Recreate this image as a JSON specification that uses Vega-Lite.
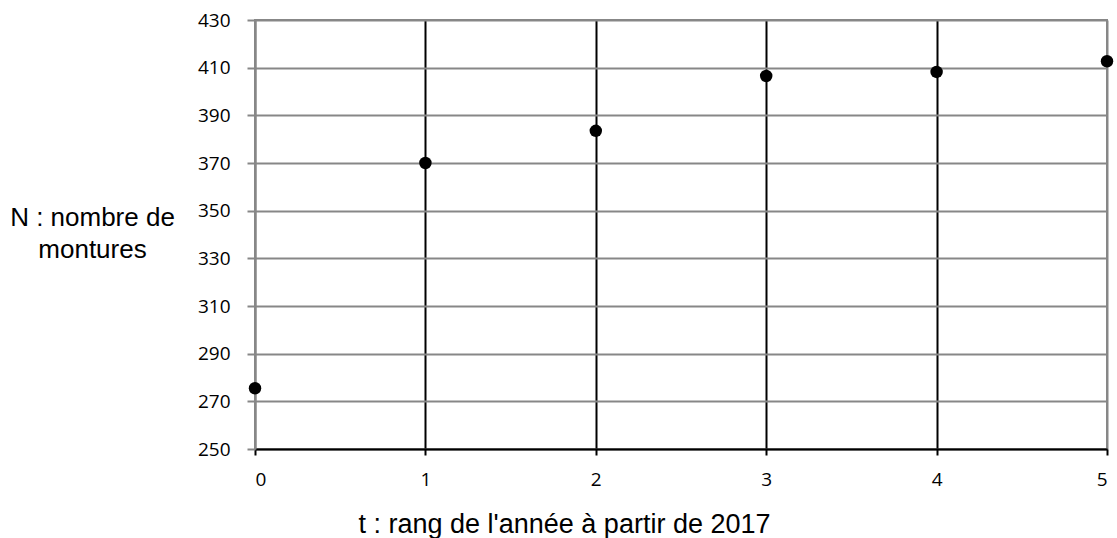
{
  "$schema": "https://vega.github.io/schema/vega-lite/v6.json",
  "width": 852,
  "height": 429,
  "autosize": "none",
  "padding": {"left": 255, "top": 20, "right": 10, "bottom": 89},
  "background": "white",
  "config": {
    "view": {"stroke": "#878787", "strokeWidth": 2}
  },
  "data": {
    "values": [
      {"t": 0, "N": 275.5},
      {"t": 1, "N": 370},
      {"t": 2, "N": 383.5},
      {"t": 3, "N": 406.5},
      {"t": 4, "N": 408.2},
      {"t": 5, "N": 412.7}
    ]
  },
  "mark": {"type": "point", "filled": true, "color": "black", "opacity": 1, "size": 155},
  "encoding": {
    "x": {
      "field": "t",
      "type": "quantitative",
      "scale": {"domain": [0, 5], "nice": false, "zero": false},
      "axis": {
        "values": [0, 1, 2, 3, 4, 5],
        "format": "d",
        "grid": true,
        "gridColor": {"condition": {"test": "datum.value == 0 || datum.value == 5", "value": "#878787"}, "value": "black"},
        "gridWidth": 2,
        "domainColor": "black",
        "domainWidth": 2,
        "tickColor": "black",
        "tickWidth": 2,
        "tickSize": 6,
        "labelFont": "Open Sans",
        "labelFontSize": 19,
        "labelColor": "black",
        "labelPadding": 15,
        "title": "t : rang de l'année à partir de 2017",
        "titleFont": "Liberation Sans",
        "titleFontSize": 27,
        "titleFontWeight": "normal",
        "titleColor": "black",
        "titleAlign": "center",
        "titleBaseline": "alphabetic",
        "titleX": 309,
        "titleY": 83
      }
    },
    "y": {
      "field": "N",
      "type": "quantitative",
      "scale": {"domain": [250, 430], "nice": false, "zero": false},
      "axis": {
        "values": [250, 270, 290, 310, 330, 350, 370, 390, 410, 430],
        "grid": true,
        "gridColor": "#878787",
        "gridWidth": 2,
        "domainColor": "#878787",
        "domainWidth": 2,
        "tickColor": "#878787",
        "tickWidth": 2,
        "tickSize": 8,
        "labelFont": "Open Sans",
        "labelFontSize": 19,
        "labelColor": "black",
        "labelPadding": 17,
        "title": ["N : nombre de", "montures"],
        "titleFont": "Liberation Sans",
        "titleFontSize": 26,
        "titleFontWeight": "normal",
        "titleColor": "black",
        "titleAngle": 0,
        "titleAlign": "center",
        "titleBaseline": "alphabetic",
        "titleLineHeight": 32,
        "titleX": -163,
        "titleY": 205
      }
    }
  }
}
